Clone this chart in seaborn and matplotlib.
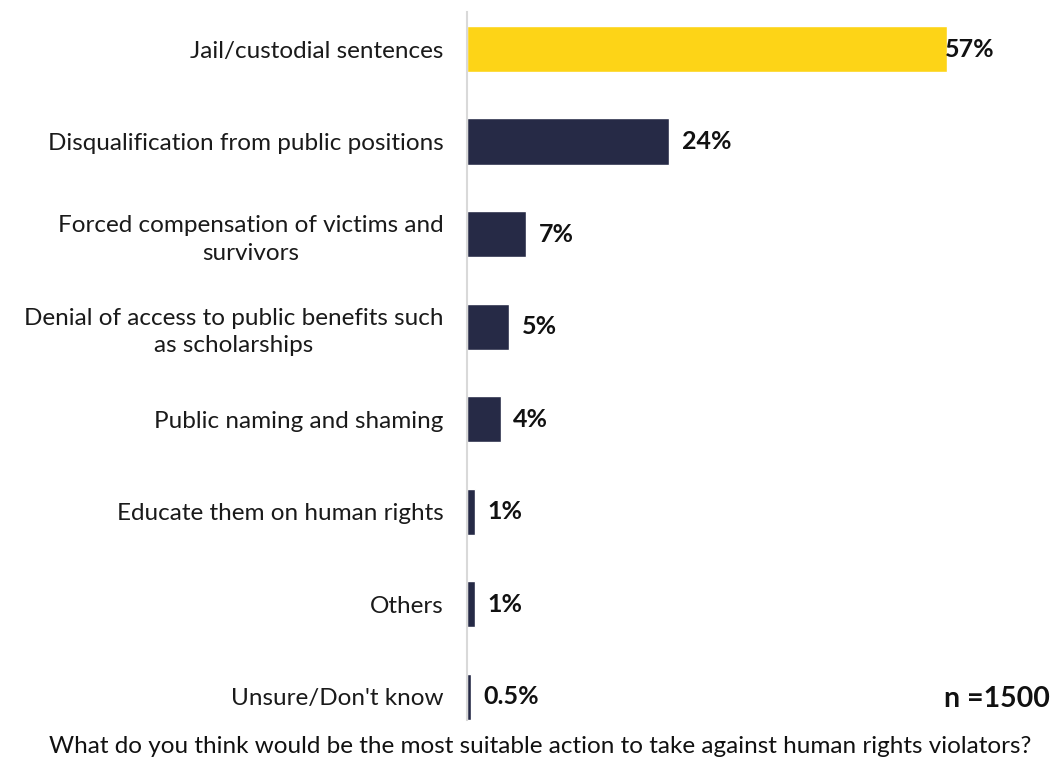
import matplotlib
matplotlib.use("Agg")
import matplotlib.pyplot as plt
import seaborn as sns
import pandas as pd

categories = [
    "Jail/custodial sentences",
    "Disqualification from public positions",
    "Forced compensation of victims and\nsurvivors",
    "Denial of access to public benefits such\nas scholarships",
    "Public naming and shaming",
    "Educate them on human rights",
    "Others",
    "Unsure/Don't know",
]
values = [57, 24, 7, 5, 4, 1, 1, 0.5]
value_labels = ["57%", "24%", "7%", "5%", "4%", "1%", "1%", "0.5%"]

YELLOW = "#FDD417"
NAVY = "#262A46"
colors = [YELLOW] + [NAVY] * (len(categories) - 1)

sns.set_theme(style="white")
plt.rcParams["font.family"] = ["Lato", "DejaVu Sans"]

df = pd.DataFrame({"category": categories, "value": values})

fig = plt.figure(figsize=(10.56, 7.6), dpi=100)
ax = fig.add_axes([0.4422, 0.0526, 0.5426, 0.9316])

sns.barplot(data=df, y="category", x="value", hue="category", palette=colors,
            orient="h", width=0.5, legend=False, ax=ax, saturation=1)

ax.set_xlim(0, 68)
ax.set_ylim(7.25, -0.4)
ax.set_xlabel("")
ax.set_ylabel("")
ax.set_xticks([])
for s in ["top", "right", "bottom"]:
    ax.spines[s].set_visible(False)
ax.spines["left"].set_color("#D9D9D9")
ax.spines["left"].set_linewidth(1.5)

ax.tick_params(axis="y", length=0, pad=17, labelsize=17.5, labelcolor="#1a1a1a")
for lbl in ax.get_yticklabels():
    lbl.set_multialignment("center")
    lbl.set_linespacing(1.4)

for i, (v, t) in enumerate(zip(values, value_labels)):
    off = -2 if i == 0 else 9
    ax.annotate(t, xy=(v, i), xytext=(off, 0), textcoords="offset points",
                ha="left", va="center", fontsize=18, fontweight="bold",
                color="#111111")

fig.text(0.994, 0.08, "n =1500", ha="right", va="center", fontsize=20.5,
         fontweight="bold", color="#111111")
fig.text(0.512, 0.018,
         "What do you think would be the most suitable action to take against human rights violators?",
         ha="center", va="center", fontsize=17.5, color="#111111")

fig.savefig("out.png", dpi=100)
